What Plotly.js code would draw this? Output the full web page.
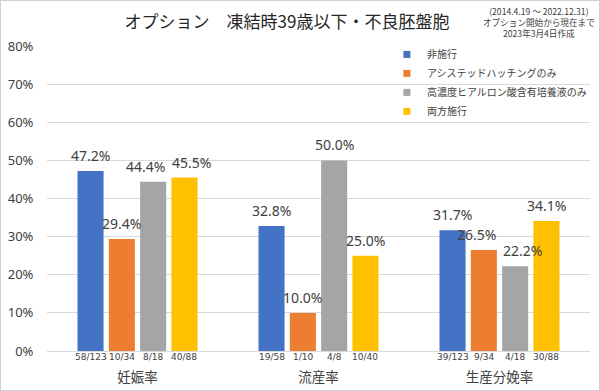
<!DOCTYPE html>
<html>
<head>
<meta charset="utf-8">
<script src="https://cdn.plot.ly/plotly-3.0.1.min.js"></script>
<style>
html,body{margin:0;padding:0;background:#fff;}
#chart{width:598px;height:389px;border:1px solid #D0D0D0;}
</style>
</head>
<body>
<div id="chart"></div>
<script>
const categories = ["妊娠率", "流産率", "生産分娩率"];
const seriesNames = ["非施行", "アシステッドハッチングのみ", "高濃度ヒアルロン酸含有培養液のみ", "両方施行"];
const seriesColors = ["#4472C4", "#ED7D31", "#A5A5A5", "#FFC000"];
const valsNone = [47.2, 32.8, 31.7];
const valsAH = [29.4, 10.0, 26.5];
const valsHA = [44.4, 50.0, 22.2];
const valsBoth = [45.5, 25.0, 34.1];
const fracNone = ["58/123", "19/58", "39/123"];
const fracAH = ["10/34", "1/10", "9/34"];
const fracHA = ["8/18", "4/8", "4/18"];
const fracBoth = ["40/88", "10/40", "30/88"];
const yTickVals = [0, 10, 20, 30, 40, 50, 60, 70, 80];
const yTickLabels = ["0%", "10%", "20%", "30%", "40%", "50%", "60%", "70%", "80%"];

const values = [valsNone, valsAH, valsHA, valsBoth];
const fracs = [fracNone, fracAH, fracHA, fracBoth];
const textColor = "#404040";
const baseFont = "Noto Sans, Noto Sans CJK JP, sans-serif";

const W = 598, H = 389;
const margin = {l: 46, r: 9, t: 45, b: 39, autoexpand: false};
const bargap = 0.308, bargroupgap = 0.168;
const yMax = 80;
const plotW = W - margin.l - margin.r, plotH = H - margin.t - margin.b;
const catPx = plotW / categories.length;
const nSeries = values.length;
const slot = (1 - bargap) / nSeries;
// centre of series i inside a category, in category-axis units
const offsetOf = i => -(1 - bargap) / 2 + slot * (i + 0.5);

const traces = values.map((v, i) => ({
  type: "bar", x: categories, y: v, name: seriesNames[i],
  showlegend: false, marker: {color: seriesColors[i]}, hoverinfo: "skip"
}));
seriesNames.forEach((n, i) => {
  traces.push({
    type: "scatter", mode: "markers", x: [null], y: [null], name: n,
    marker: {symbol: "square", size: 7, color: seriesColors[i]},
    showlegend: true, hoverinfo: "skip"
  });
});

// value labels (annotations placed through the axes), with a simple declutter pass
const labelW = 42, labelH = 18;
const annotations = [];
categories.forEach((c, ci) => {
  const labs = values.map((v, i) => ({i: i, v: v[ci], cx: (ci + offsetOf(i)) * catPx, cy: v[ci] / yMax * plotH, shift: 0}));
  for (let k = 0; k < labs.length - 1; k += 1) {
    const a = labs[k], b = labs[k + 1];
    const dx = (b.cx + b.shift) - (a.cx + a.shift);
    if (Math.abs(a.cy - b.cy) < labelH && dx < labelW + 4) {
      const need = (labelW + 4 - dx) / 2;
      a.shift -= need; b.shift += need;
    }
  }
  labs.forEach(l => {
    annotations.push({
      xref: "x", yref: "y", x: ci + offsetOf(l.i), y: l.v, xanchor: "center", yanchor: "bottom",
      xshift: l.shift, yshift: 4, showarrow: false, text: l.v.toFixed(1) + "%",
      font: {size: 14, color: textColor, family: baseFont}
    });
  });
  fracs.forEach((f, i) => {
    annotations.push({
      xref: "x", yref: "y", x: ci + offsetOf(i), y: 0, xanchor: "center", yanchor: "top",
      yshift: 1, showarrow: false, text: f[ci],
      font: {size: 9, color: textColor, family: "DejaVu Sans, sans-serif"}
    });
  });
});
annotations.push({
  xref: "paper", yref: "paper", x: (538 - margin.l) / plotW, y: 1, xanchor: "center", yanchor: "bottom",
  yshift: 5, text: "(2014.4.19 ～ 2022.12.31)<br>オプション開始から現在まで<br>2023年3月4日作成",
  showarrow: false, align: "center",
  font: {size: 8.6, color: textColor, family: "Noto Sans CJK JP, sans-serif"}
});

const layout = {
  width: W, height: H, margin: margin,
  paper_bgcolor: "#fff", plot_bgcolor: "#fff",
  barmode: "group", bargap: bargap, bargroupgap: bargroupgap,
  font: {family: baseFont, color: textColor},
  title: {text: "オプション　凍結時39歳以下・不良胚盤胞", x: 286/598, xanchor: "center", y: 0.945, yanchor: "middle",
          font: {size: 17, color: "#262626", family: "Noto Sans CJK JP, sans-serif"}},
  xaxis: {type: "category", range: [-0.5, categories.length - 0.5], showgrid: false, showline: true,
          linecolor: "#D9D9D9", linewidth: 1,
          ticks: "outside", ticklen: 14, tickcolor: "rgba(0,0,0,0)",
          tickfont: {size: 13.5, color: textColor, family: "Noto Sans CJK JP, sans-serif"}},
  yaxis: {range: [0, yMax], tickmode: "array", tickvals: yTickVals, ticktext: yTickLabels,
          showgrid: true, gridcolor: "#D9D9D9",
          zeroline: false, ticks: "outside", ticklen: 10, tickcolor: "rgba(0,0,0,0)",
          tickfont: {size: 13, color: textColor, family: baseFont}},
  legend: {x: 0.626, xanchor: "left", y: 1.02, yanchor: "top", bgcolor: "rgba(0,0,0,0)",
           font: {size: 10, color: textColor, family: "Noto Sans CJK JP, sans-serif"},
           tracegroupgap: 0, itemwidth: 30},
  annotations: annotations
};

Plotly.newPlot("chart", traces, layout, {displayModeBar: false, staticPlot: true});
</script>
</body>
</html>
